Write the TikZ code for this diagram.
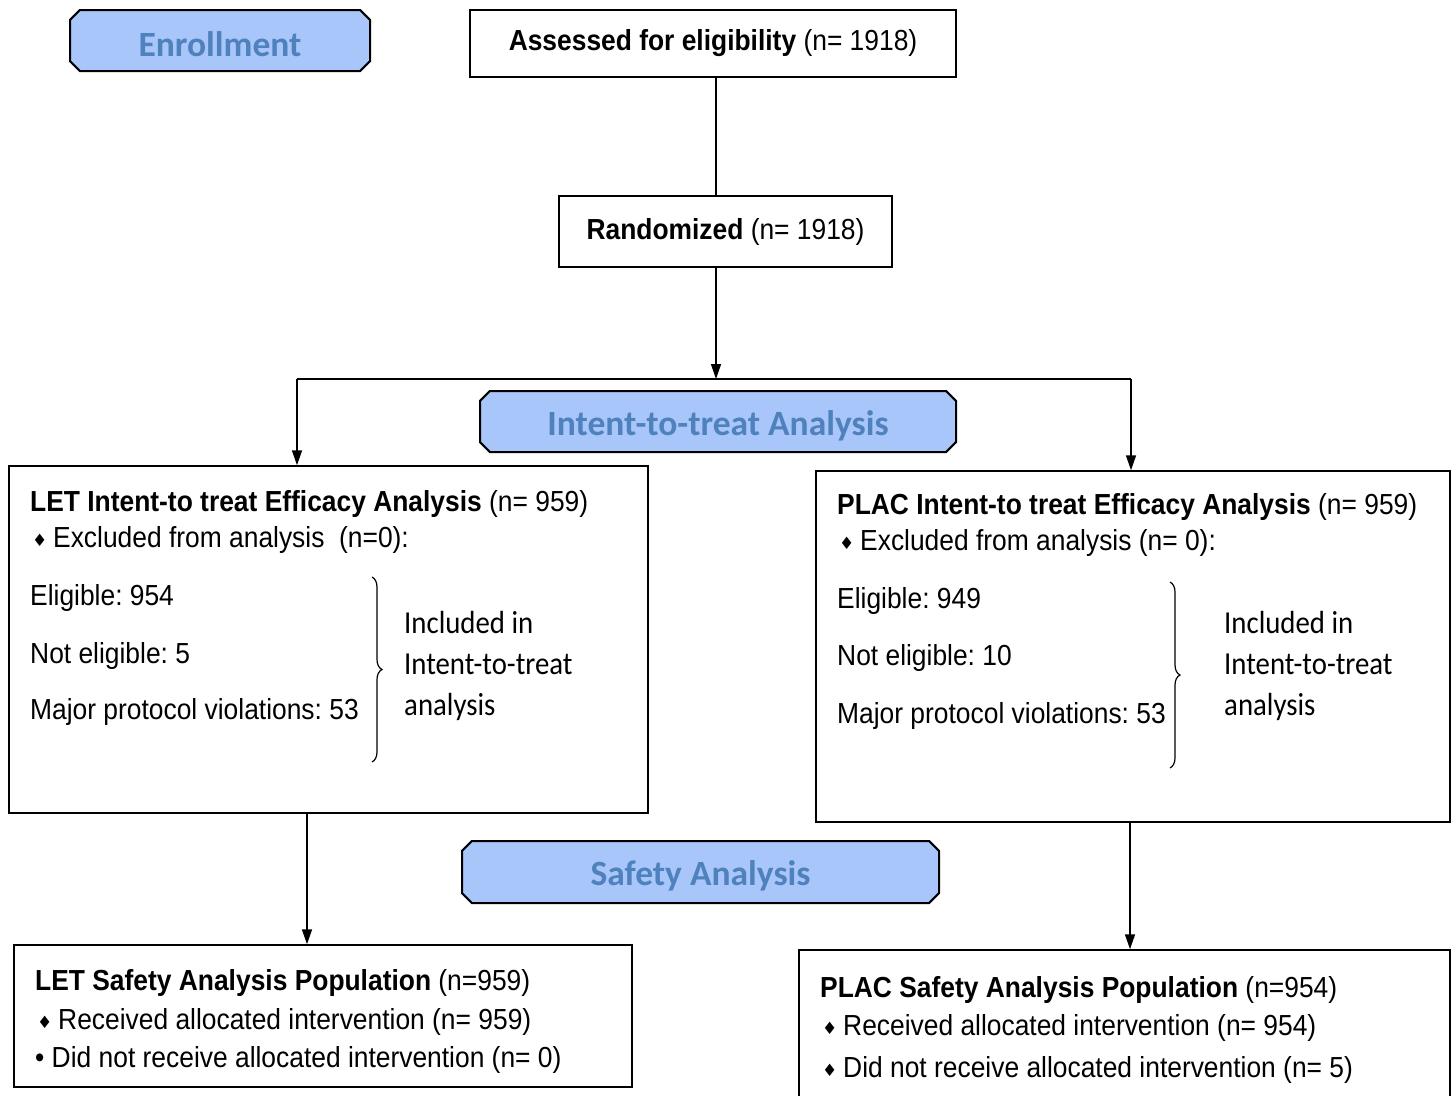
\documentclass[tikz,border=0pt]{standalone}
\usepackage{fontspec}
\usetikzlibrary{shapes.misc,arrows.meta,decorations.pathreplacing}
\newfontfamily\arialf{Liberation Sans}[FakeStretch=0.91]
\newfontfamily\calf{Carlito}[FakeStretch=0.9]
\newfontfamily\calbf{Carlito}
\newfontfamily\djv{DejaVu Sans}
\definecolor{bannerfill}{HTML}{A8C6FA}
\definecolor{bannertext}{HTML}{4F81BD}
\newcommand{\dmd}{\raisebox{1pt}{\djv\fontsize{17}{19}\selectfont ♦}}
\frenchspacing
\begin{document}
\begin{tikzpicture}[x=1pt,y=-1pt,
  box/.style={draw,line width=1.5pt,rectangle,inner sep=0pt},
  banner/.style={draw,line width=2pt,fill=bannerfill,chamfered rectangle,chamfered rectangle xsep=7pt,inner sep=0pt,
     font=\calbf\bfseries\fontsize{35.5}{38}\selectfont},
  btxt/.style={inner sep=0pt,font=\calbf\bfseries\fontsize{35.5}{38}\selectfont,text=bannertext},
  txt/.style={anchor=base west,inner sep=0pt,font=\arialf\fontsize{29}{32}\selectfont},
  ctxt/.style={anchor=base west,inner sep=0pt,font=\calf\fontsize{32}{36}\selectfont},
  arr/.style={line width=1.5pt,-{Triangle[length=15pt,width=10pt]}},
  ln/.style={line width=1.5pt},
  brc/.style={line width=1.2pt,decorate,decoration={brace,amplitude=10pt}}]
\useasboundingbox (0,0) rectangle (1455,1095);
\clip (0,0) rectangle (1455,1095);
\fill[white] (0,0) rectangle (1455,1095);

% banners
\node[banner,minimum width=300pt,minimum height=61pt] (enr) at (220,40.5) {\phantom{Enrollment}};
\node[btxt] (enrt) at (220,44.5) {Enrollment};
\node[banner,minimum width=476pt,minimum height=61pt] (itt) at (718,421.5) {\phantom{Intent-to-treat Analysis}};
\node[btxt] (ittt) at (718,425.5) {Intent-to-treat Analysis};
\node[banner,minimum width=477pt,minimum height=62pt] (saf) at (700.5,872) {\phantom{Safety Analysis}};
\node[btxt] (saft) at (700.5,876) {Safety Analysis};

% top boxes
\node[box,minimum width=486pt,minimum height=67pt,font=\arialf\fontsize{29}{32}\selectfont] (assess) at (713,43.5) {\textbf{Assessed for eligibility} (n= 1918)};
\node[box,minimum width=333pt,minimum height=71pt,font=\arialf\fontsize{29}{32}\selectfont] (rand) at (725.5,231.5) {\textbf{Randomized} (n= 1918)};

% main boxes
\node[box,minimum width=639pt,minimum height=347pt] (let) at (328.5,639.5) {};
\node[box,minimum width=634pt,minimum height=351pt] (plac) at (1133,646.5) {};
\node[box,minimum width=618pt,minimum height=142pt] (lets) at (323,1016) {};
\node[box,minimum width=651pt,minimum height=160pt] (placs) at (1124.5,1030) {};

% connectors
\coordinate (j) at (716,379);
\coordinate (jl) at (297,379);
\coordinate (jr) at (1131,379);
\coordinate (al) at (307,0);
\coordinate (ar) at (1130,0);
\draw[ln] (assess.south -| j) -- (rand.north -| j);
\draw[arr] (rand.south -| j) -- (j);
\draw[ln] (jl) -- (jr);
\draw[arr] (jl) -- (let.north -| jl);
\draw[arr] (jr) -- (plac.north -| jr);
\draw[arr] (let.south -| al) -- (lets.north -| al);
\draw[arr] (plac.south -| ar) -- (placs.north -| ar);

% LET box text
\node[txt] (l1) at (30,511) {\textbf{LET Intent-to treat Efficacy Analysis} (n= 959)};
\node[txt] (l2d) at (32,547) {\dmd};
\node[txt] (l2) at (53,547) {Excluded from analysis\ \ (n=0):};
\node[txt] (l3) at (30,605) {Eligible: 954};
\node[txt] (l4) at (30,663) {Not eligible: 5};
\node[txt] (l5) at (30,719) {Major protocol violations: 53};
\draw[brc] (372,577) -- (372,762);
\node[ctxt] (l6) at (404,633) {Included in};
\node[ctxt] (l7) at (404,674) {Intent-to-treat};
\node[ctxt] (l8) at (404,715) {analysis};

% PLAC box text
\node[txt] (p1) at (837,514) {\textbf{PLAC Intent-to treat Efficacy Analysis} (n= 959)};
\node[txt] (p2d) at (839,550) {\dmd};
\node[txt] (p2) at (860,550) {Excluded from analysis (n= 0):};
\node[txt] (p3) at (837,608) {Eligible: 949};
\node[txt] (p4) at (837,665) {Not eligible: 10};
\node[txt] (p5) at (837,723) {Major protocol violations: 53};
\draw[brc] (1170,582) -- (1170,768);
\node[ctxt] (p6) at (1224,633) {Included in};
\node[ctxt] (p7) at (1224,674) {Intent-to-treat};
\node[ctxt] (p8) at (1224,715) {analysis};

% LET safety text
\node[txt] (s1) at (35,990) {\textbf{LET Safety Analysis Population} (n=959)};
\node[txt] (s2d) at (37,1029) {\dmd};
\node[txt] (s2) at (58,1029) {Received allocated intervention (n= 959)};
\node[txt] (s3) at (35,1067) {• Did not receive allocated intervention (n= 0)};

% PLAC safety text
\node[txt] (t1) at (820,997) {\textbf{PLAC Safety Analysis Population} (n=954)};
\node[txt] (t2d) at (822,1035) {\dmd};
\node[txt] (t2) at (843,1035) {Received allocated intervention (n= 954)};
\node[txt] (t3d) at (822,1077) {\dmd};
\node[txt] (t3) at (843,1077) {Did not receive allocated intervention (n= 5)};
\end{tikzpicture}
\end{document}
